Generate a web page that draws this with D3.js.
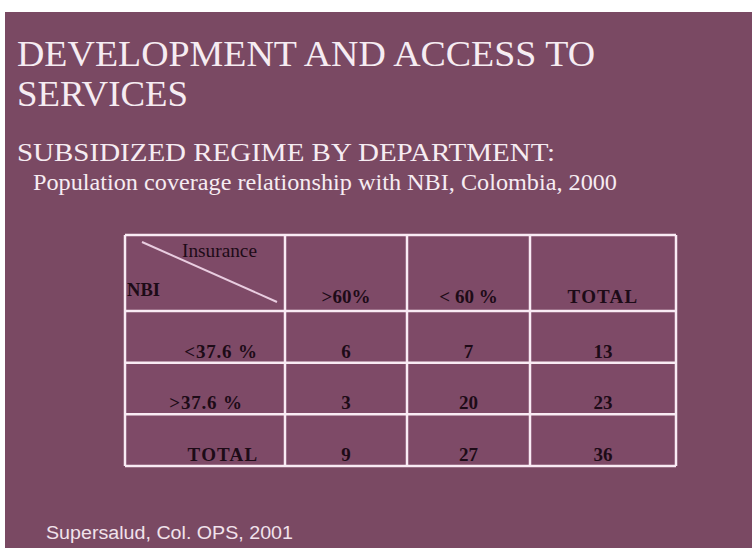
<!DOCTYPE html>
<html>
<head>
<meta charset="utf-8">
<script src="https://cdn.jsdelivr.net/npm/d3@7"></script>
<style>
  html, body { margin: 0; padding: 0; background: #ffffff; }
  svg { display: block; }
</style>
</head>
<body>
<svg id="slide" width="752" height="548"></svg>
<script>
// Cross-tabulation: departments by NBI level vs. subsidized-regime insurance coverage
const columnHeaders = [">60%", "< 60 %", "TOTAL"];
const rowLabels = ["<37.6 %", ">37.6 %", "TOTAL"];
const coverageAbove60 = [6, 3, 9];
const coverageBelow60 = [7, 20, 27];
const rowTotals = [13, 23, 36];

const titleLines = ["DEVELOPMENT AND ACCESS TO", "SERVICES"];
const subtitle = "SUBSIDIZED REGIME BY DEPARTMENT:";
const caption = "Population coverage relationship with NBI, Colombia, 2000";
const source = "Supersalud, Col. OPS, 2001";

const columns = [coverageAbove60, coverageBelow60, rowTotals];

const svg = d3.select("#slide");
const bg = "#7a4963";
const ink = "#1d0b17";
const pale = "#f6ecf2";
const rule = "#f9ebf4";

// slide background
svg.append("rect").attr("x", 5).attr("y", 12).attr("width", 747).attr("height", 536).attr("fill", bg);

// headings
const serif = "'Liberation Serif', 'Times New Roman', serif";
svg.append("text").attr("x", 17).attr("y", 66).text(titleLines[0])
  .attr("font-family", serif).attr("font-size", 36).attr("fill", pale)
  .attr("textLength", 578).attr("lengthAdjust", "spacingAndGlyphs");
svg.append("text").attr("x", 17).attr("y", 106).text(titleLines[1])
  .attr("font-family", serif).attr("font-size", 36).attr("fill", pale)
  .attr("textLength", 171).attr("lengthAdjust", "spacingAndGlyphs");
svg.append("text").attr("x", 17).attr("y", 161).text(subtitle)
  .attr("font-family", serif).attr("font-size", 25).attr("fill", pale)
  .attr("textLength", 538).attr("lengthAdjust", "spacingAndGlyphs");
svg.append("text").attr("x", 33).attr("y", 190).text(caption)
  .attr("font-family", serif).attr("font-size", 23).attr("fill", pale)
  .attr("textLength", 584).attr("lengthAdjust", "spacingAndGlyphs");
svg.append("text").attr("x", 46).attr("y", 539).text(source)
  .attr("font-family", "'Liberation Sans', Arial, sans-serif").attr("font-size", 18).attr("fill", "#f1e2eb")
  .attr("textLength", 247).attr("lengthAdjust", "spacingAndGlyphs");

// table geometry
const tableLeft = 125, tableRight = 676, tableTop = 235, headerBottom = 311, tableBottom = 466;
const colEdges = [tableLeft, 285, 407, 530, tableRight];

const x = d3.scaleOrdinal().domain(d3.range(columns.length))
  .range(d3.range(columns.length).map(i => (colEdges[i + 1] + colEdges[i + 2]) / 2));
const y = d3.scaleBand().domain(d3.range(rowLabels.length)).range([headerBottom, tableBottom]);

const table = svg.append("g");
table.append("rect").attr("x", tableLeft).attr("y", tableTop)
  .attr("width", tableRight - tableLeft).attr("height", tableBottom - tableTop)
  .attr("fill", "#7e4a67");

// grid rules
const hLines = [tableTop, headerBottom, ...y.domain().map(d => y(d) + y.bandwidth())];
table.selectAll("line.h").data(hLines).join("line").attr("class", "h")
  .attr("x1", tableLeft).attr("x2", tableRight).attr("y1", d => d).attr("y2", d => d)
  .attr("stroke", rule).attr("stroke-width", 2.5);
table.selectAll("line.v").data(colEdges).join("line").attr("class", "v")
  .attr("x1", d => d).attr("x2", d => d).attr("y1", tableTop).attr("y2", tableBottom)
  .attr("stroke", rule).attr("stroke-width", 2.5);

// corner cell: diagonal split with axis names
table.append("line").attr("x1", 142).attr("y1", 242).attr("x2", 277).attr("y2", 302)
  .attr("stroke", "#e9cde0").attr("stroke-width", 2);
table.append("text").attr("x", 182).attr("y", 257).text("Insurance")
  .attr("font-family", serif).attr("font-size", 18).attr("fill", ink)
  .attr("textLength", 75).attr("lengthAdjust", "spacingAndGlyphs");
table.append("text").attr("x", 127).attr("y", 296).text("NBI")
  .attr("font-family", serif).attr("font-size", 18).attr("font-weight", "bold")
  .attr("fill", ink).attr("textLength", 33).attr("lengthAdjust", "spacingAndGlyphs");

const cellFont = g => g.attr("font-family", serif).attr("font-size", 19)
  .attr("font-weight", "bold").attr("fill", ink);

// column headers
table.selectAll("text.col").data(columnHeaders).join("text").attr("class", "col")
  .attr("x", (d, i) => x(i)).attr("y", headerBottom - 8)
  .attr("text-anchor", "middle").attr("letter-spacing", (d, i) => i === 2 ? 1.2 : 0)
  .text(d => d).call(cellFont);

// row labels
const rowLabelCenter = [221, 206, 223];
table.selectAll("text.row").data(rowLabels).join("text").attr("class", "row")
  .attr("x", (d, i) => rowLabelCenter[i]).attr("y", (d, i) => y(i) + y.bandwidth() - 5)
  .attr("text-anchor", "middle").attr("letter-spacing", (d, i) => i === 2 ? 1.2 : 0.8)
  .text(d => d).call(cellFont);

// counts
columns.forEach((vals, c) => {
  table.selectAll("text.v" + c).data(vals).join("text").attr("class", "v" + c)
    .attr("x", x(c)).attr("y", (d, r) => y(r) + y.bandwidth() - 5)
    .attr("text-anchor", "middle").text(d => d).call(cellFont);
});
</script>
</body>
</html>
